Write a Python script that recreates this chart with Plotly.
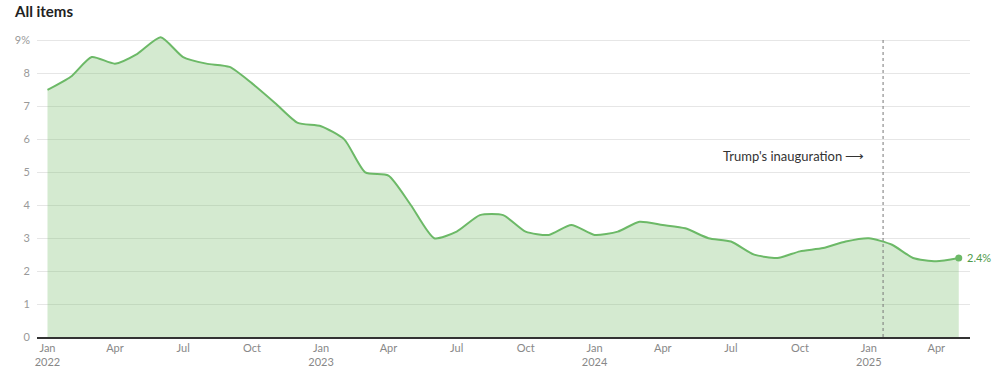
import plotly.graph_objects as go
import pandas as pd

months = pd.date_range("2022-01-01", "2025-05-01", freq="MS").strftime("%Y-%m-%d").tolist()
cpi = [7.5, 7.9, 8.5, 8.3, 8.6, 9.1, 8.5, 8.3, 8.2, 7.7, 7.1, 6.5,
       6.4, 6.0, 5.0, 4.9, 4.0, 3.0, 3.2, 3.7, 3.7, 3.2, 3.1, 3.4,
       3.1, 3.2, 3.5, 3.4, 3.3, 3.0, 2.9, 2.5, 2.4, 2.6, 2.7, 2.9,
       3.0, 2.8, 2.4, 2.3, 2.4]
ytick_vals = [0, 1, 2, 3, 4, 5, 6, 7, 8, 9]
ytick_text = ["0", "1", "2", "3", "4", "5", "6", "7", "8", "9%"]
xtick_vals = ["2022-01-01", "2022-04-01", "2022-07-01", "2022-10-01",
              "2023-01-01", "2023-04-01", "2023-07-01", "2023-10-01",
              "2024-01-01", "2024-04-01", "2024-07-01", "2024-10-01",
              "2025-01-01", "2025-04-01"]
xtick_text = ["Jan<br>2022", "Apr", "Jul", "Oct",
              "Jan<br>2023", "Apr", "Jul", "Oct",
              "Jan<br>2024", "Apr", "Jul", "Oct",
              "Jan<br>2025", "Apr"]
inauguration = "2025-01-20"

green = "#6cb967"
fill = "rgba(120,190,110,0.32)"
font = "Lato, Open Sans, sans-serif"

fig = go.Figure()
fig.add_trace(go.Scatter(
    x=months, y=cpi, mode="lines", line=dict(color=green, width=2, shape="spline", smoothing=0.6),
    fill="tozeroy", fillcolor=fill, hoverinfo="skip", showlegend=False))
fig.add_trace(go.Scatter(
    x=[months[-1]], y=[cpi[-1]], mode="markers", marker=dict(color=green, size=7),
    showlegend=False, hoverinfo="skip"))

fig.add_shape(type="line", x0=inauguration, x1=inauguration, y0=0, y1=9.1,
              xref="x", yref="y", line=dict(color="#777", width=1, dash="dot"))

fig.add_annotation(x=months[-1], y=cpi[-1], text=f"{cpi[-1]}%", showarrow=False,
                   xanchor="left", xshift=6, font=dict(color="#4e9a4a", size=11, family=font))
fig.add_annotation(x="2024-12-30", y=5.5, text="Trump's inauguration ⟶", showarrow=False,
                   xanchor="right", font=dict(color="#333", size=13, family=font))
fig.add_annotation(x=0, y=1, xref="paper", yref="paper", xanchor="left", yanchor="bottom",
                   text="<b>All items</b>", showarrow=False, xshift=-25, yshift=12,
                   font=dict(color="#222", size=15, family=font))

fig.update_layout(
    width=998, height=383,
    margin=dict(l=37, r=28, t=34, b=46, autoexpand=False),
    plot_bgcolor="white", paper_bgcolor="white",
    font=dict(family=font, color="#999", size=11),
    xaxis=dict(range=["2021-12-18", "2025-05-16"], tickvals=xtick_vals, ticktext=xtick_text,
               showgrid=False, showline=True, linecolor="#333", linewidth=1.5, automargin=False,
               ticks="", tickfont=dict(color="#888", size=11), zeroline=False),
    yaxis=dict(range=[0, 9.2], tickvals=ytick_vals, ticktext=ytick_text, showgrid=True,
               gridcolor="#e6e6e6", zeroline=False, ticks="", ticklabelstandoff=6, automargin=False,
               tickfont=dict(color="#999", size=11)),
)
fig.write_html("out.html", config={"displayModeBar": False},
               post_script="document.body.style.margin='0';")
